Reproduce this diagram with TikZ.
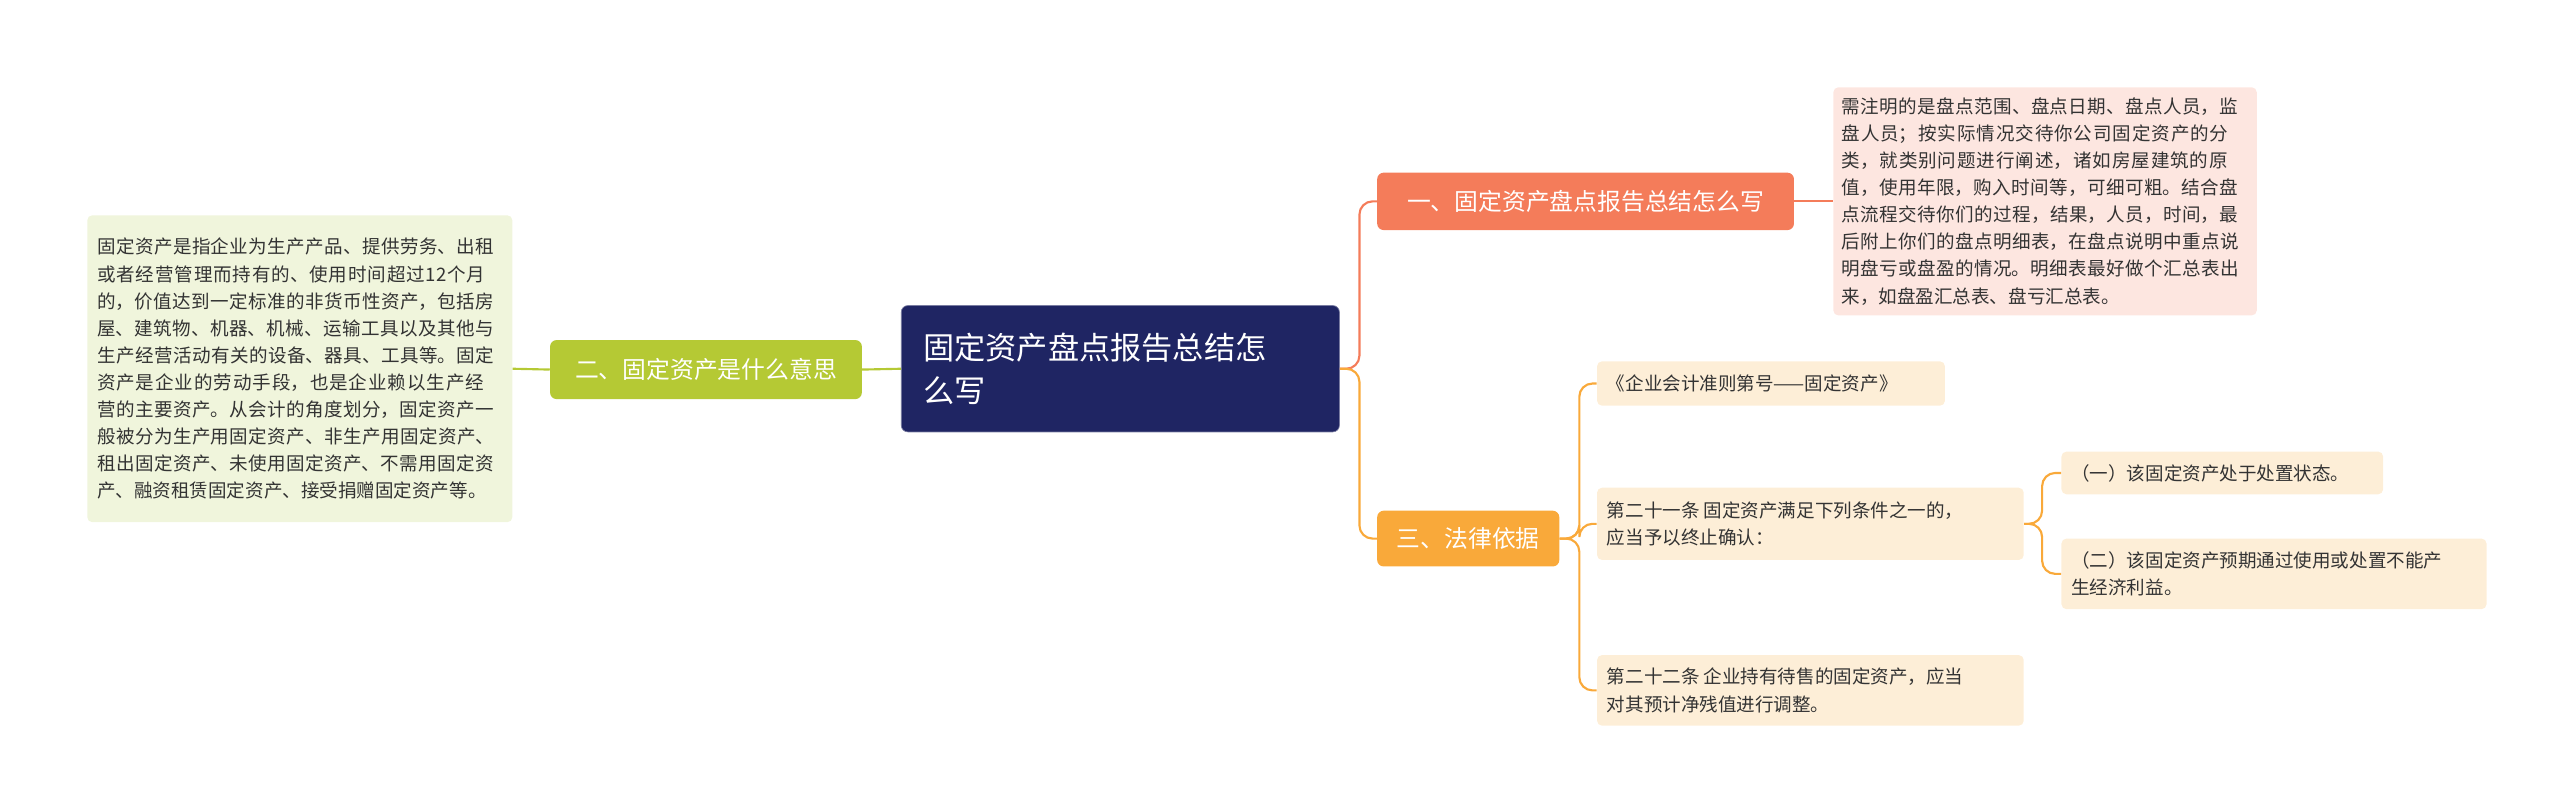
\documentclass[tikz,border=0pt]{standalone}
\usepackage{fontspec}
\setmainfont{Noto Sans CJK SC}
\XeTeXlinebreaklocale "zh"
\XeTeXlinebreakskip=0pt plus 1pt
\begin{document}
\begin{tikzpicture}[x=1pt,y=-1pt,
  leaf/.style={rounded corners=3pt,inner sep=0pt,font=\fontsize{11.3}{16.5}\selectfont,text=black!80,align=left,anchor=north west},
  br/.style={rounded corners=4pt,inner sep=0pt,text=white,font=\fontsize{14.5}{18}\selectfont,anchor=north west},
  ln/.style={line width=1.3pt,rounded corners=8pt}]
\useasboundingbox (0,0) rectangle (1560,493);
\definecolor{navy}{HTML}{1F2563}
\definecolor{olive}{HTML}{B5C934}
\definecolor{coral}{HTML}{F47C5A}
\definecolor{amber}{HTML}{F9A93A}
\definecolor{lgreen}{HTML}{F0F5DC}
\definecolor{lpink}{HTML}{FDE6E0}
\definecolor{lorange}{HTML}{FDEED7}
% center
\node[br,fill=navy,minimum width=267pt,minimum height=77pt,draw=navy!60] (c) at (549,186) {};
\node[text=white,font=\fontsize{19}{26}\selectfont,align=left,text width=240pt] (ct) at (c.center) {固定资产盘点报告总结怎\\么写};
% left
\node[br,fill=olive,minimum width=190pt,minimum height=36pt] (l) at (335,207) {};
\node[text=white,font=\fontsize{14.5}{18}\selectfont] (lt) at (l.center) {二、固定资产是什么意思};
\node[leaf,fill=lgreen,minimum width=259pt,minimum height=187pt] (ll) at (53,131) {};
\node[leaf,anchor=west,text width=248pt] (llt) at ([xshift=6pt]ll.west) {固定资产是指企业为生产产品、提供劳务、出租或者经营管理而持有的、使用时间超过12个月的，价值达到一定标准的非货币性资产，包括房屋、建筑物、机器、机械、运输工具以及其他与生产经营活动有关的设备、器具、工具等。固定资产是企业的劳动手段，也是企业赖以生产经营的主要资产。从会计的角度划分，固定资产一般被分为生产用固定资产、非生产用固定资产、租出固定资产、未使用固定资产、不需用固定资产、融资租赁固定资产、接受捐赠固定资产等。};
% right 1
\node[br,fill=coral,minimum width=254pt,minimum height=35pt] (r1) at (839,105) {};
\node[text=white,font=\fontsize{14.5}{18}\selectfont] (r1t) at (r1.center) {一、固定资产盘点报告总结怎么写};
\node[leaf,fill=lpink,minimum width=258pt,minimum height=139pt] (p1) at (1117,53) {};
\node[leaf,anchor=west,text width=248pt] (p1t) at ([xshift=5pt]p1.west) {需注明的是盘点范围、盘点日期、盘点人员，监盘人员；按实际情况交待你公司固定资产的分类，就类别问题进行阐述，诸如房屋建筑的原值，使用年限，购入时间等，可细可粗。结合盘点流程交待你们的过程，结果，人员，时间，最后附上你们的盘点明细表，在盘点说明中重点说明盘亏或盘盈的情况。明细表最好做个汇总表出来，如盘盈汇总表、盘亏汇总表。};
% right 3
\node[br,fill=amber,minimum width=111pt,minimum height=34pt] (r3) at (839,311) {};
\node[text=white,font=\fontsize{14.5}{18}\selectfont] (r3t) at (r3.center) {三、法律依据};
\node[leaf,fill=lorange,minimum width=212pt,minimum height=27pt] (a) at (973,220) {};
\node[leaf,anchor=west] (at) at ([xshift=6pt]a.west) {《企业会计准则第号——固定资产》};
\node[leaf,fill=lorange,minimum width=260pt,minimum height=44pt] (b) at (973,297) {};
\node[leaf,anchor=west] (bt) at ([xshift=6pt]b.west) {第二十一条 固定资产满足下列条件之一的，\\应当予以终止确认：};
\node[leaf,fill=lorange,minimum width=260pt,minimum height=43pt] (d) at (973,399) {};
\node[leaf,anchor=west] (dt) at ([xshift=6pt]d.west) {第二十二条 企业持有待售的固定资产，应当\\对其预计净残值进行调整。};
\node[leaf,fill=lorange,minimum width=196pt,minimum height=26pt] (b1) at (1256,275) {};
\node[leaf,anchor=west] (b1t) at ([xshift=6pt]b1.west) {（一）该固定资产处于处置状态。};
\node[leaf,fill=lorange,minimum width=259pt,minimum height=43pt] (b2) at (1256,328) {};
\node[leaf,anchor=west] (b2t) at ([xshift=6pt]b2.west) {（二）该固定资产预期通过使用或处置不能产\\生经济利益。};
% connectors
\draw[ln,olive] (c.west) -- (l.east);
\draw[ln,olive] (l.west) -- (ll.east);
\draw[ln,coral] (c.east) -- ++(12,0) |- (r1.west);
\draw[ln,amber] (c.east) -- ++(12,0) |- (r3.west);
\draw[ln,coral] (r1.east) -- (p1.west |- r1.east);
\draw[ln,amber] (r3.east) -- ++(12,0) |- (a.west);
\draw[ln,amber] (r3.east) -- ++(12,0) |- (b.west);
\draw[ln,amber] (r3.east) -- ++(12,0) |- (d.west);
\draw[ln,amber] (b.east) -- ++(11,0) |- (b1.west);
\draw[ln,amber] (b.east) -- ++(11,0) |- (b2.west);
\end{tikzpicture}
\end{document}
